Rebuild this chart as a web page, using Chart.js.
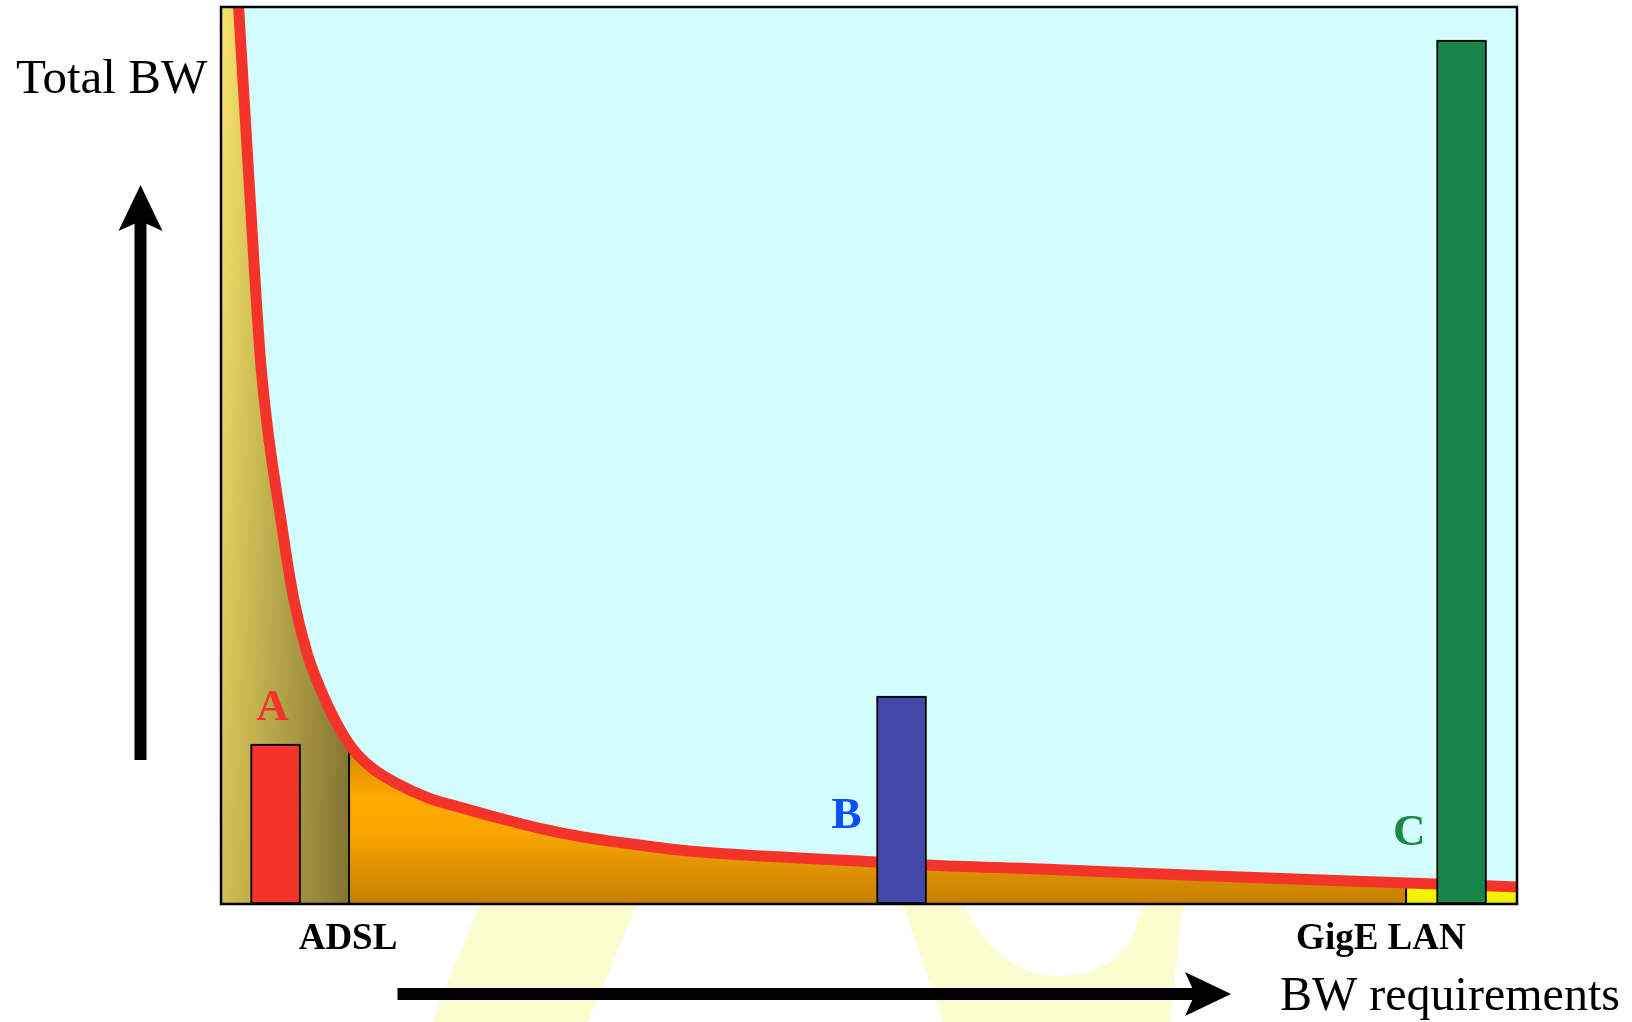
<!DOCTYPE html>
<html>
<head>
<meta charset="utf-8">
<script src="https://cdn.jsdelivr.net/npm/chart.js@4.4.0/dist/chart.umd.min.js"></script>
<style>
  html, body { margin: 0; padding: 0; background: #fff; overflow: hidden; }
  #wrap { width: 1632px; height: 1022px; }
</style>
</head>
<body>
<div id="wrap"><canvas id="c" width="1632" height="1022"></canvas></div>
<script>
// Demand curve: total bandwidth against the bandwidth one application needs (relative units 0-100)
const curveX = [0, 1.37, 2.24, 3.09, 4.78, 5.63, 6.64, 7.64, 8.87, 10.11, 11.65, 13.81, 16.13,
                18.29, 21.53, 24.69, 27.93, 31.10, 35.34, 39.20, 50.62, 54.40, 63.27, 75.54, 91.51, 100];
const curveY = [132.0, 99.67, 78.82, 59.87, 41.36, 33.89, 27.98, 24.08, 20.29, 17.39, 15.16, 13.25, 11.75,
                10.85, 9.55, 8.40, 7.47, 6.80, 6.02, 5.57, 4.68, 4.35, 3.90, 3.18, 2.34, 1.90];

// Access technology bands along the requirement axis
const adslEnd = 9.88;
const gigeStart = 91.44;
const adslEdgeTop = 17.8;
const gigeEdgeTop = 2.34;
const bandTickValues = [9.8, 89.5];
const bandTickLabels = ['ADSL', 'GigE LAN'];

// Example applications
const appNames = ['A', 'B', 'C'];
const appX = [4.21, 52.51, 95.72];
const appY = [17.84, 23.19, 96.32];

const axisTitleY = 'Total BW';
const axisTitleX = 'BW requirements';

const SERIF = '"Liberation Serif", "Times New Roman", serif';
const appColors = ['#f4332a', '#4449a9', '#168547'];
const appLabelColors = ['#f4332a', '#0a50ff', '#1a8a4a'];
// label placement: align, horizontal offset from bar centre, baseline reference
const appLabelStyle = [
  { align: 'center', dx: -3, fromTop: -24 },
  { align: 'right', gap: 15, fromBottom: -76 },
  { align: 'right', gap: 11, fromBottom: -59 }
];

let fillCache = null;
function areaFill(context) {
  const chart = context.chart;
  const a = chart.chartArea;
  if (!a || !chart.scales.x) return 'rgba(0,0,0,0)';
  const xs = chart.scales.x;
  const x1 = xs.getPixelForValue(adslEnd);
  const x2 = xs.getPixelForValue(gigeStart);
  const key = [a.left, a.top, a.right, a.bottom, x1, x2].join(',');
  if (fillCache && fillCache.key === key) return fillCache.pattern;
  const off = document.createElement('canvas');
  off.width = chart.width;
  off.height = chart.height;
  const g = off.getContext('2d');
  const h = a.bottom - a.top;

  // ADSL band: yellow to olive, darkening toward the base
  let gr = g.createLinearGradient(a.left, 0, x1, 0);
  gr.addColorStop(0, '#f9e66b');
  gr.addColorStop(1, '#887c3a');
  g.fillStyle = gr;
  g.fillRect(a.left, a.top, x1 - a.left, h);
  gr = g.createLinearGradient(0, a.top, 0, a.bottom);
  gr.addColorStop(0, 'rgba(120,100,30,0)');
  gr.addColorStop(1, 'rgba(120,100,30,0.3)');
  g.fillStyle = gr;
  g.fillRect(a.left, a.top, x1 - a.left, h);

  // middle band: orange fading to amber-brown
  gr = g.createLinearGradient(0, a.bottom - 150, 0, a.bottom);
  gr.addColorStop(0, '#d88c00');
  gr.addColorStop(0.3, '#ffaa00');
  gr.addColorStop(0.52, '#fba600');
  gr.addColorStop(1, '#c47f00');
  g.fillStyle = gr;
  g.fillRect(x1, a.top, x2 - x1, h);

  // GigE band: bright yellow
  gr = g.createLinearGradient(0, a.bottom - 18, 0, a.bottom);
  gr.addColorStop(0, '#fffc00');
  gr.addColorStop(1, '#ece500');
  g.fillStyle = gr;
  g.fillRect(x2, a.top, a.right - x2, h);

  const pattern = chart.ctx.createPattern(off, 'no-repeat');
  fillCache = { key, pattern };
  return pattern;
}

function drawArrowUp(ctx, x, yBottom, yTip, shaftW, headW, headL, notch) {
  ctx.fillRect(x - shaftW / 2, yTip + headL - notch, shaftW, yBottom - (yTip + headL - notch));
  ctx.beginPath();
  ctx.moveTo(x, yTip);
  ctx.lineTo(x + headW, yTip + headL);
  ctx.lineTo(x, yTip + headL - notch);
  ctx.lineTo(x - headW, yTip + headL);
  ctx.closePath();
  ctx.fill();
}
function drawArrowRight(ctx, y, xLeft, xTip, shaftW, headW, headL, notch) {
  ctx.fillRect(xLeft, y - shaftW / 2, (xTip - headL + notch) - xLeft, shaftW);
  ctx.beginPath();
  ctx.moveTo(xTip, y);
  ctx.lineTo(xTip - headL, y - headW);
  ctx.lineTo(xTip - headL + notch, y);
  ctx.lineTo(xTip - headL, y + headW);
  ctx.closePath();
  ctx.fill();
}

const decor = {
  id: 'decor',
  beforeDraw(chart) {
    const { ctx, chartArea: a } = chart;
    ctx.save();
    ctx.fillStyle = '#ffffff';
    ctx.fillRect(0, 0, chart.width, chart.height);
    // pale background lettering
    ctx.fillStyle = '#fbfcd0';
    ctx.beginPath();
    ctx.moveTo(481.6, 900); ctx.lineTo(638.8, 900); ctx.lineTo(587.8, 1022); ctx.lineTo(431.6, 1022);
    ctx.closePath();
    ctx.fill();
    ctx.beginPath();
    ctx.moveTo(901.5, 900);
    ctx.lineTo(943.4, 1022);
    ctx.lineTo(1170, 1022);
    ctx.lineTo(1183.5, 900);
    ctx.lineTo(1142.5, 900);
    ctx.bezierCurveTo(1136, 952, 1106, 976, 1058, 976);
    ctx.bezierCurveTo(1015, 976, 984, 947, 960, 900);
    ctx.closePath();
    ctx.fill();
    // plot background
    ctx.fillStyle = '#d3fdfe';
    ctx.fillRect(a.left, a.top, a.right - a.left, a.bottom - a.top);
    ctx.restore();
  },
  afterDatasetsDraw(chart) {
    const { ctx, chartArea: a } = chart;
    ctx.save();
    ctx.strokeStyle = '#000';
    ctx.lineWidth = 2.5;
    ctx.strokeRect(a.left, a.top, a.right - a.left, a.bottom - a.top);

    const meta = chart.getDatasetMeta(0);
    ctx.font = 'bold 45px ' + SERIF;
    ctx.textBaseline = 'alphabetic';
    meta.data.forEach((bar, i) => {
      const st = appLabelStyle[i];
      const p = bar.getProps(['x', 'y', 'width'], true);
      ctx.fillStyle = appLabelColors[i];
      ctx.textAlign = st.align;
      const x = st.align === 'center' ? p.x + st.dx : p.x - p.width / 2 - st.gap;
      const y = st.fromTop !== undefined ? p.y + st.fromTop : a.bottom + st.fromBottom;
      ctx.fillText(appNames[i], x, y);
    });
    ctx.restore();
  },
  afterDraw(chart) {
    const { ctx } = chart;
    ctx.save();
    ctx.fillStyle = '#000';
    drawArrowUp(ctx, 140.5, 760, 185, 12, 22, 46, 10);
    drawArrowRight(ctx, 994, 397.5, 1231, 12, 22, 46, 10);
    ctx.font = '49px ' + SERIF;
    ctx.textAlign = 'left';
    ctx.textBaseline = 'alphabetic';
    ctx.fillText(axisTitleY, 16, 93);
    ctx.font = '48px ' + SERIF;
    ctx.fillText(axisTitleX, 1280, 1010);
    ctx.restore();
  }
};

new Chart(document.getElementById('c'), {
  type: 'line',
  data: {
    datasets: [
      {
        type: 'bar',
        label: 'Applications',
        data: appX.map((x, i) => ({ x, y: appY[i] })),
        backgroundColor: appColors,
        borderColor: '#000',
        borderWidth: 2,
        borderSkipped: false,
        barThickness: 50,
        order: 0
      },
      {
        type: 'line',
        label: axisTitleY,
        data: curveX.map((x, i) => ({ x, y: curveY[i] })),
        borderColor: '#f4332a',
        borderWidth: 11,
        cubicInterpolationMode: 'monotone',
        pointRadius: 0,
        fill: 'origin',
        backgroundColor: areaFill,
        clip: 0,
        order: 1
      },
      {
        type: 'line',
        label: 'ADSL edge',
        data: [{ x: adslEnd, y: 0 }, { x: adslEnd, y: adslEdgeTop }],
        borderColor: '#000',
        borderWidth: 2,
        pointRadius: 0,
        fill: false,
        order: 2
      },
      {
        type: 'line',
        label: 'GigE edge',
        data: [{ x: gigeStart, y: 0 }, { x: gigeStart, y: gigeEdgeTop }],
        borderColor: '#000',
        borderWidth: 2,
        pointRadius: 0,
        fill: false,
        order: 2
      }
    ]
  },
  options: {
    responsive: false,
    devicePixelRatio: 1,
    animation: false,
    events: [],
    layout: { padding: { left: 221, right: 115, top: 7, bottom: 0 } },
    plugins: {
      legend: { display: false },
      tooltip: { enabled: false },
      filler: { drawTime: 'beforeDatasetsDraw' }
    },
    scales: {
      x: {
        type: 'linear',
        min: 0,
        max: 100,
        offset: false,
        grid: { display: false, drawTicks: false, offset: false },
        border: { display: false },
        afterBuildTicks: (scale) => { scale.ticks = bandTickValues.map(v => ({ value: v })); },
        afterFit: (scale) => { scale.height = 118; },
        ticks: {
          autoSkip: false,
          maxRotation: 0,
          padding: 13,
          color: '#000',
          font: { family: SERIF, size: 37, weight: 'bold' },
          callback: (value, index) => bandTickLabels[index]
        }
      },
      y: {
        type: 'linear',
        min: 0,
        max: 100,
        display: false
      }
    }
  },
  plugins: [decor]
});
</script>
</body>
</html>
